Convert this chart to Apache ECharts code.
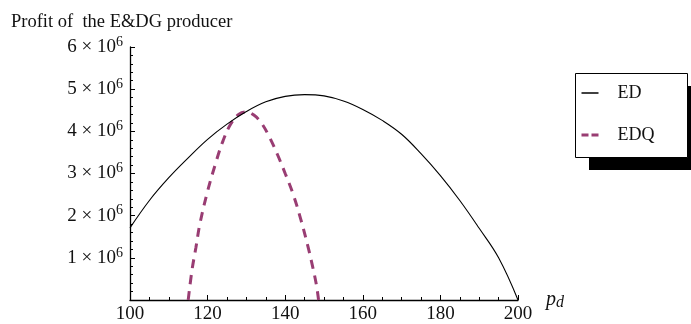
<!DOCTYPE html>
<html>
<head>
<meta charset="utf-8">
<title>Profit of the E&amp;DG producer</title>
<style>
  html, body { margin: 0; padding: 0; background: #fff; }
  #main { width: 691px; height: 324px; }
</style>
<script src="https://cdn.jsdelivr.net/npm/echarts@6/dist/echarts.min.js"></script>
</head>
<body>
<div id="main"></div>
<script type="text/javascript">
// values
var edPrice  = [100, 105, 110, 115, 120, 125, 130, 135, 140, 145, 150, 155, 160, 165, 170, 175, 180, 185, 190, 195, 200];
var edProfit = [1710000, 2360000, 2900000, 3370000, 3810000, 4170000, 4470000, 4700000, 4830000, 4870000, 4840000,
                4720000, 4520000, 4260000, 3930000, 3470000, 2950000, 2360000, 1700000, 1000000, 0];

var edqPrice  = [115, 116, 117, 118, 120, 122, 124, 126, 128, 130, 132, 134, 136, 138, 140, 142, 144, 146, 147, 148, 148.6];
var edqProfit = [0, 720000, 1250000, 1800000, 2580000, 3220000, 3780000, 4180000, 4400000, 4460000, 4380000, 4180000,
                 3850000, 3450000, 3000000, 2520000, 1920000, 1220000, 820000, 380000, 0];

var xTicks = [100, 120, 140, 160, 180, 200];
var yTicks = [1, 2, 3, 4, 5, 6];   // x 10^6

var serif = 'Liberation Serif, Times New Roman, serif';

function pairs(xs, ys) {
  var out = [];
  for (var i = 0; i < xs.length; i++) out.push([xs[i], ys[i]]);
  return out;
}

var chart = echarts.init(document.getElementById('main'));

var option = {
  animation: false,
  backgroundColor: '#fff',
  title: {
    text: 'Profit of  the E&DG producer',
    left: 11,
    top: 13,
    padding: 0,
    textStyle: { fontFamily: serif, fontSize: 18.5, fontWeight: 'normal', color: '#111' }
  },
  grid: { left: 130, right: 173, top: 47, bottom: 24 },
  graphic: [
    { type: 'rect', z: 1, shape: { x: 589, y: 86, width: 113, height: 84 }, style: { fill: '#000' } },
    { type: 'rect', z: 2, shape: { x: 575.5, y: 73.5, width: 112, height: 84 },
      style: { fill: '#fff', stroke: '#000', lineWidth: 1 } }
  ],
  legend: {
    orient: 'vertical',
    left: 580,
    top: 84,
    padding: 0,
    itemWidth: 17,
    itemHeight: 16,
    itemGap: 24,
    z: 10,
    textStyle: { fontFamily: serif, fontSize: 18, color: '#111', padding: [0, 0, 0, 14] },
    data: [
      { name: 'ED', lineStyle: { width: 1.5 }, itemStyle: { color: 'rgba(0,0,0,0)', borderWidth: 0 } },
      { name: 'EDQ', lineStyle: { type: [7, 3], width: 3 }, itemStyle: { color: 'rgba(0,0,0,0)', borderWidth: 0 } }
    ]
  },
  xAxis: {
    type: 'value',
    min: 100,
    max: 200,
    interval: 20,
    name: '{p|p}{d|d}',
    nameLocation: 'end',
    nameGap: 28,
    nameTextStyle: {
      rich: {
        p: { fontFamily: serif, fontStyle: 'italic', fontSize: 20, color: '#111' },
        d: { fontFamily: serif, fontStyle: 'italic', fontSize: 16, color: '#111', verticalAlign: 'bottom', padding: [6, 0, 0, 0] }
      }
    },
    axisLine: { lineStyle: { color: '#000', width: 1.3 } },
    axisTick: { show: true, inside: true, length: 5, lineStyle: { color: '#000' } },
    minorTick: { show: true, splitNumber: 4, length: 3, lineStyle: { color: '#000' } },
    splitLine: { show: false },
    axisLabel: {
      margin: 5,
      fontFamily: serif,
      fontSize: 19,
      color: '#111',
      formatter: function (v) { return xTicks.indexOf(v) >= 0 ? String(v) : ''; }
    }
  },
  yAxis: {
    type: 'value',
    min: 0,
    max: 6000000,
    interval: 1000000,
    axisLine: { show: true, lineStyle: { color: '#000', width: 1.3 } },
    axisTick: { show: true, inside: true, length: 5, lineStyle: { color: '#000' } },
    minorTick: { show: true, splitNumber: 5, length: 3, lineStyle: { color: '#000' } },
    splitLine: { show: false },
    axisLabel: {
      margin: 7,
      formatter: function (v) {
        var k = Math.round(v / 1000000);
        if (yTicks.indexOf(k) < 0) return '';
        return '{a|' + k + ' \u00d7 10}{s|6}';
      },
      rich: {
        a: { fontFamily: serif, fontSize: 19, color: '#111', lineHeight: 24 },
        s: { fontFamily: serif, fontSize: 14, color: '#111', verticalAlign: 'top' }
      }
    }
  },
  series: [
    {
      name: 'ED',
      type: 'line',
      symbol: 'none',
      smooth: 0.4,
      data: pairs(edPrice, edProfit),
      lineStyle: { color: '#000', width: 1.1 },
      itemStyle: { color: '#000' },
      z: 3
    },
    {
      name: 'EDQ',
      type: 'line',
      symbol: 'none',
      smooth: 0.4,
      data: pairs(edqPrice, edqProfit),
      lineStyle: { color: '#993d73', width: 3, type: [9, 7] },
      itemStyle: { color: '#993d73' },
      z: 2
    }
  ]
};

chart.setOption(option);
</script>
</body>
</html>
